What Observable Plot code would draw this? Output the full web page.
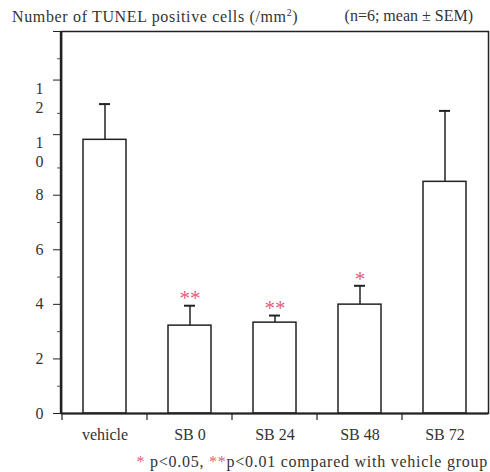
<!DOCTYPE html>
<html>
<head>
<meta charset="utf-8">
<script src="https://cdn.jsdelivr.net/npm/d3@7"></script>
<script src="https://cdn.jsdelivr.net/npm/@observablehq/plot@0.6"></script>
<style>
  html, body { margin: 0; padding: 0; background: #fff; }
  #wrap { position: relative; width: 490px; height: 472px; font-family: "Liberation Serif", serif; color: #333; }
  #title { position: absolute; left: 12px; top: 7px; font-size: 16px; white-space: nowrap; letter-spacing: 0.65px; }
  #title sup { font-size: 10px; }
  #subtitle { position: absolute; right: 17px; top: 7px; font-size: 16px; white-space: nowrap; }
  #chart { position: absolute; left: 0; top: 24px; }
  #note { position: absolute; right: 2px; top: 453px; font-size: 16px; white-space: nowrap; letter-spacing: 0.75px; }
  #note .s { color: #e0607a; }
</style>
</head>
<body>
<div id="wrap">
  <div id="title">Number of TUNEL positive cells (/mm<sup>2</sup>)</div>
  <div id="subtitle">(n=6; mean ± SEM)</div>
  <div id="chart"></div>
  <div id="note"><span class="s">*</span> p&lt;0.05, <span class="s">**</span>p&lt;0.01 compared with vehicle group</div>
</div>
<script>
const groups = ["vehicle", "SB 0", "SB 24", "SB 48", "SB 72"];
const means = [10.03, 3.22, 3.33, 3.99, 8.49];
const sems = [1.31, 0.73, 0.26, 0.69, 2.60];
const stars = ["", "**", "**", "*", ""];
const yLabelTicks = [0, 2, 4, 6, 8];
const ySplitTicks = [10, 12];
const yMinorTicks = [1, 3, 5, 7, 9, 11, 13];
const yTopTick = [14];

const data = groups.map((g, i) => ({group: g, mean: means[i], sem: sems[i], star: stars[i], top: means[i] + sems[i]}));

const ink = "#222";

function boundaryTicks(index, scales, values, dimensions) {
  const x = scales.x, y = scales.y;
  const step = x(groups[1]) - x(groups[0]);
  const bw = x.bandwidth ? x.bandwidth() : step / 2;
  const gap = (step - bw) / 2;
  const y0 = y(0);
  const g = d3.create("svg:g").attr("stroke", ink).attr("stroke-width", 1.2);
  groups.forEach(c => {
    const bx = x(c) - gap;
    g.append("line").attr("x1", bx).attr("x2", bx).attr("y1", y0).attr("y2", y0 + 7);
  });
  g.append("line").attr("x1", dimensions.marginLeft).attr("x2", dimensions.marginLeft)
    .attr("y1", dimensions.marginTop).attr("y2", y0).attr("stroke-width", 2.4);
  return g.node();
}

const chart = Plot.plot({
  width: 490,
  height: 426,
  marginTop: 7,
  marginBottom: 37,
  marginLeft: 61,
  marginRight: 2,
  style: {fontFamily: "'Liberation Serif', serif", fontSize: "16px", color: "#333", background: "transparent"},
  x: {domain: groups, paddingInner: 0.5, paddingOuter: 0.25, label: null},
  y: {domain: [0, 14], label: null},
  marks: [
    Plot.frame({stroke: ink, strokeWidth: 1.5}),
    Plot.ruleX(data, {x: "group", y1: "mean", y2: "top", stroke: ink, strokeWidth: 1.5}),
    Plot.tickY(data, {x: "group", y: "top", stroke: ink, strokeWidth: 2, insetLeft: 16, insetRight: 16}),
    Plot.barY(data, {x: "group", y: "mean", fill: "white", stroke: ink, strokeWidth: 1.5}),
    Plot.text(data, {x: "group", y: "top", text: "star", dy: -7, fill: "#e0607a", fontSize: 21}),
    Plot.ruleY([0], {stroke: ink, strokeWidth: 2}),
    Plot.axisY({ticks: yLabelTicks, tickSize: 8, tickPadding: 10, stroke: ink, tickFormat: d => String(d), label: null}),
    Plot.axisY({ticks: ySplitTicks, tickSize: 8, tickPadding: 10, stroke: ink, tickFormat: d => String(d).split("").join("\n"), lineAnchor: "top", lineHeight: 1.2, dy: -6, label: null}),
    Plot.axisY({ticks: yTopTick, tickSize: 8, stroke: ink, tickFormat: () => "", label: null}),
    Plot.axisY({ticks: yMinorTicks, tickSize: 4, stroke: "#555", tickFormat: () => "", label: null}),
    Plot.axisX({tickSize: 0, tickPadding: 15, label: null}),
    boundaryTicks
  ]
});
document.getElementById("chart").appendChild(chart);
</script>
</body>
</html>
